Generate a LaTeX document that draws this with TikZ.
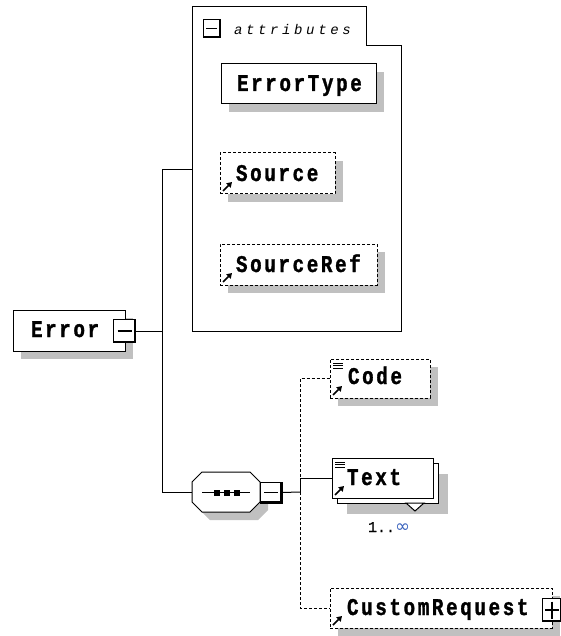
\documentclass[tikz,border=0pt]{standalone}
\usepackage{fontspec}
\usetikzlibrary{arrows.meta}
\newfontfamily\bxfont[FakeStretch=0.8,LetterSpace=11,BoldFeatures={FakeBold=1.3}]{Liberation Mono}
\newfontfamily\atfont[LetterSpace=26]{Liberation Mono}
\newfontfamily\mulfont[FakeBold=0.8]{Liberation Mono}
\newfontfamily\inffont{DejaVu Sans}
\definecolor{shd}{RGB}{192,192,192}
\definecolor{infcol}{RGB}{60,100,190}
\begin{document}
\begin{tikzpicture}[x=1pt,y=-1pt,
  every node/.style={inner sep=0pt,outer sep=0pt},
  box/.style={draw,line width=1pt,fill=white,rectangle,
    preaction={fill=shd,transform canvas={shift={(8pt,-8pt)}}}},
  optbox/.style={box,dash pattern=on 3pt off 2pt},
  lbl/.style={font=\bxfont\bfseries\fontsize{24}{24}\selectfont,anchor=base west},
  conn/.style={line width=1pt},
  dconn/.style={line width=1pt,dash pattern=on 3pt off 2pt},
  ctrlbox/.style={draw,line width=1pt,fill=white,rectangle},
  refarrow/.style={line width=1.6pt,-{Triangle[length=5pt,width=6pt]}}
]
\useasboundingbox (0,0) rectangle (560,636);
\fill[white] (0,0) rectangle (560,636);

% attributes panel
\draw[line width=1pt] (192,7) -- (366,7) -- (366,46) -- (401,46) -- (401,331) -- (192,331) -- cycle;
\coordinate (attrL) at (192,170);
\node[ctrlbox,minimum width=17,minimum height=17] (attrminus) at (211.5,28.5) {};
\draw[line width=1.5pt] (attrminus.north east) -- (attrminus.south east) -- (attrminus.south west);
\draw[line width=1.2pt] ([xshift=3pt]attrminus.west) -- ([xshift=-3pt]attrminus.east);
\node[font=\atfont\itshape\fontsize{14}{14}\selectfont,anchor=base west] (attrtxt) at (234,35) {attributes};

% attribute boxes
\node[box,minimum width=155,minimum height=40] (errortype) at (298.5,84) {};
\node[lbl] (errortypet) at (237,91) {ErrorType};
\node[optbox,minimum width=115,minimum height=41] (source) at (277.5,173.5) {};
\node[lbl] (sourcet) at (236,181) {Source};
\node[optbox,minimum width=157,minimum height=41] (sourceref) at (298.5,264.5) {};
\node[lbl] (sourcereft) at (236,272) {SourceRef};

% Error element
\node[box,minimum width=112,minimum height=41] (error) at (69,330.5) {};
\node[lbl] (errort) at (31,337) {Error};
\node[ctrlbox,minimum width=22,minimum height=23] (errminus) at (124.5,331) {};
\draw[line width=2.5pt] ([shift={(-0.5pt,0pt)}]errminus.north east) -- ([shift={(-0.5pt,0.5pt)}]errminus.south east) -- ([shift={(0pt,0.5pt)}]errminus.south west);
\draw[line width=1.2pt] ([xshift=4pt]errminus.west) -- ([xshift=-4pt]errminus.east);

% trunk
\coordinate (jt) at (162,170);
\coordinate (jm) at (162,331);
\coordinate (jb) at (162,492);
\draw[conn] (errminus.east) -- (jm);
\draw[conn] (jt) -- (jb);
\draw[conn] (jt) -- (attrL);

% sequence compositor
\node[minimum width=68,minimum height=40] (seq) at (226,492) {};
\draw[line width=1pt,fill=white,preaction={fill=shd,transform canvas={shift={(8pt,-8pt)}}}]
  ([xshift=10pt]seq.north west) -- ([xshift=-10pt]seq.north east) -- ([yshift=-10pt]seq.north east)
  -- ([yshift=10pt]seq.south east) -- ([xshift=-10pt]seq.south east) -- ([xshift=10pt]seq.south west)
  -- ([yshift=10pt]seq.south west) -- ([yshift=-10pt]seq.north west) -- cycle;
\draw[conn] (jb) -- (seq.west);
\draw[line width=1pt] ([xshift=10pt]seq.west) -- ([xshift=-10pt]seq.east);
\fill (214,490) rectangle (220,496);
\fill (224,490) rectangle (230,496);
\fill (234,490) rectangle (240,496);
\node[ctrlbox,minimum width=22,minimum height=21] (seqminus) at (271,492.5) {};
\draw[line width=2.5pt] ([shift={(-0.5pt,0pt)}]seqminus.north east) -- ([shift={(-0.5pt,0.5pt)}]seqminus.south east) -- ([shift={(0pt,0.5pt)}]seqminus.south west);
\draw[line width=1.2pt] ([xshift=4pt]seqminus.west) -- ([xshift=-4pt]seqminus.east);

% children
\node[optbox,minimum width=100,minimum height=39] (code) at (380,378.5) {};
\node[lbl] (codet) at (348,384) {Code};

\node[draw,line width=1pt,fill=white,minimum width=101,minimum height=40,
  preaction={fill=shd,transform canvas={shift={(10pt,-10pt)}}}] (textback) at (387.5,483.5) {};
\node[ctrlbox,minimum width=101,minimum height=40] (text) at (382.5,478) {};
\node[lbl] (textt) at (347,485) {Text};
\draw[line width=1pt,fill=white] (406,503) -- (424,503) -- (415,511) -- cycle;
\node[font=\mulfont\fontsize{15}{15}\selectfont,anchor=base west] (mult) at (368,532)
  {1..\textcolor{infcol}{\inffont\fontsize{18}{18}\selectfont ∞}};

\node[optbox,minimum width=222,minimum height=40] (custom) at (441,608) {};
\node[lbl] (customt) at (347,615) {CustomRequest};
\node[ctrlbox,minimum width=20,minimum height=23] (cplus) at (552,610) {};
\draw[line width=2.5pt] ([shift={(-0.5pt,0pt)}]cplus.north east) -- ([shift={(-0.5pt,0.5pt)}]cplus.south east) -- ([shift={(0pt,0.5pt)}]cplus.south west);
\draw[line width=1.2pt] ([xshift=3pt]cplus.west) -- ([xshift=-3pt]cplus.east);
\draw[line width=1.2pt] ([yshift=-3pt]cplus.north) -- ([yshift=3pt]cplus.south);

% icons
\foreach \n in {code,text}{
  \draw[line width=0.9pt] ([shift={(3pt,-4pt)}]\n.north west) -- ++(10,0);
  \draw[line width=0.9pt] ([shift={(3pt,-6.5pt)}]\n.north west) -- ++(10,0);
  \draw[line width=0.9pt] ([shift={(3pt,-9pt)}]\n.north west) -- ++(10,0);
}
\foreach \n in {source,sourceref,code,text,custom}{
  \draw[refarrow] ([shift={(3pt,3pt)}]\n.south west) -- ++(9,-9);
}

% connectors from sequence
\coordinate (cj) at (300,492);
\draw[conn] (seqminus.east) -- (cj);
\draw[conn] (cj) |- (text.west);
\draw[dconn] (cj) |- (code.west);
\draw[dconn] (cj) |- (custom.west);
\end{tikzpicture}
\end{document}
